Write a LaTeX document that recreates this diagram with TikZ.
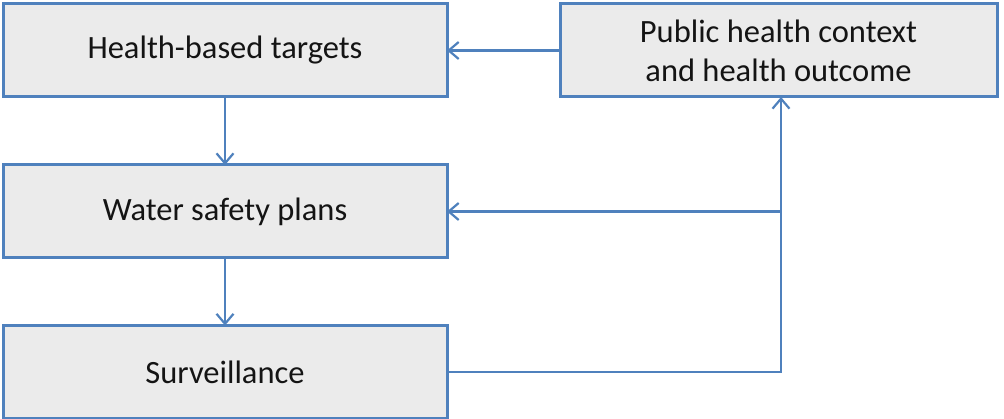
\documentclass[tikz,border=0pt]{standalone}
\usepackage{fontspec}
\setmainfont{Carlito}
\usetikzlibrary{arrows.meta}
\definecolor{boxblue}{RGB}{79,129,189}
\definecolor{boxfill}{RGB}{235,235,235}
\definecolor{txt}{RGB}{20,20,20}
\begin{document}
\begin{tikzpicture}[x=1pt,y=-1pt,
  box/.style={draw=boxblue, fill=boxfill, line width=3pt, rectangle,
    minimum width=444pt, minimum height=93pt, inner sep=0pt, outer sep=0pt,
    text=txt, font=\fontsize{32.5}{40}\selectfont, align=center},
  conn/.style={draw=boxblue, line width=2.2pt},
  arr/.style={conn, -{Straight Barb[length=10pt,width=17pt]}}]
\useasboundingbox (0,0) rectangle (1004,419);
\node[box] (b1) at (225,50.5) {Health-based targets};
\node[box] (b2) at (225,211.5) {Water safety plans};
\node[box] (b3) at (225,372) {Surveillance};
\node[box, minimum width=437pt] (ph) at (778.5,50.5) {Public health context\\[-1pt]and health outcome};
\coordinate (j1) at (781,372);
\coordinate (j2) at (781,211.5);
\draw[arr] (ph.west) -- (b1.east);
\draw[arr] (b1.south) -- (b2.north);
\draw[arr] (b2.south) -- (b3.north);
\draw[arr] (b3.east) -- (j1) -- (j1 |- ph.south);
\draw[arr] (j2) -- (b2.east);
\end{tikzpicture}
\end{document}
